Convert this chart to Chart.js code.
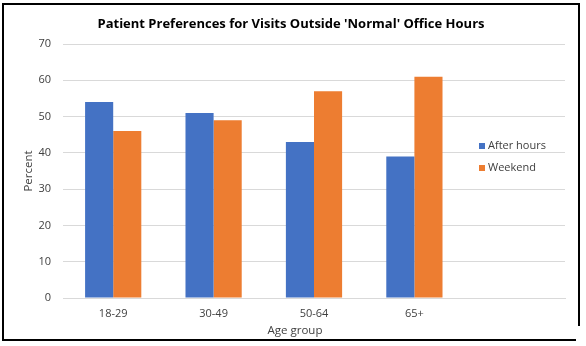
<!DOCTYPE html>
<html>
<head>
<meta charset="utf-8">
<script src="https://cdn.jsdelivr.net/npm/chart.js@4.4.0/dist/chart.umd.min.js"></script>
<style>
  html, body { margin: 0; padding: 0; background: #fff; }
  #wrap { position: relative; width: 586px; height: 346px; overflow: hidden; }
  #wrap canvas { position: absolute; left: 0; top: 0; }
  .ln { position: absolute; background: #000; }
</style>
</head>
<body>
<div id="wrap">
  <canvas id="chart" width="586" height="346"></canvas>
  <div class="ln" style="left:2px;top:3px;width:2px;height:338px"></div>
  <div class="ln" style="left:2px;top:3px;width:578px;height:2px"></div>
  <div class="ln" style="left:578px;top:3px;width:2px;height:323px"></div>
  <div class="ln" style="left:2px;top:339px;width:574px;height:2px"></div>
</div>
<script>
const titleText = "Patient Preferences for Visits Outside 'Normal' Office Hours";
const ageGroups = ["18-29", "30-49", "50-64", "65+", ""];
const afterHours = [54, 51, 43, 39, null];
const weekend = [46, 49, 57, 61, null];
const yTicks = { min: 0, max: 70, step: 10 };

const textColor = "#404040";
const fontFamily = "'Open Sans', 'Liberation Sans', sans-serif";

// title, axis titles and the legend sitting inside the plot on the right
const extras = {
  id: "extras",
  afterDraw(chart) {
    const ctx = chart.ctx;
    const area = chart.chartArea;
    ctx.save();
    ctx.fillStyle = "#000";
    ctx.font = "bold 13px " + fontFamily;
    ctx.textAlign = "center";
    ctx.textBaseline = "middle";
    ctx.fillText(titleText, 291, 24);

    ctx.fillStyle = textColor;
    ctx.font = "11.5px " + fontFamily;
    ctx.fillText("Age group", 295, 331);

    ctx.save();
    ctx.translate(29, (area.top + area.bottom) / 2);
    ctx.rotate(-Math.PI / 2);
    ctx.fillText("Percent", 0, 0);
    ctx.restore();

    ctx.textAlign = "left";
    ctx.font = "11px " + fontFamily;
    chart.data.datasets.forEach((ds, i) => {
      const y = 146 + i * 22;
      ctx.fillStyle = ds.backgroundColor;
      ctx.fillRect(479, y - 3, 6, 6);
      ctx.fillStyle = textColor;
      ctx.fillText(ds.label, 488, y);
    });
    ctx.restore();
  }
};

new Chart(document.getElementById("chart"), {
  type: "bar",
  data: {
    labels: ageGroups,
    datasets: [
      { label: "After hours", data: afterHours, backgroundColor: "#4472C4" },
      { label: "Weekend", data: weekend, backgroundColor: "#ED7D31" }
    ]
  },
  options: {
    responsive: false,
    animation: false,
    devicePixelRatio: 1,
    layout: { padding: { left: 0, right: 21, top: 44, bottom: 0 } },
    datasets: { bar: { categoryPercentage: 0.56, barPercentage: 1.0 } },
    plugins: {
      legend: { display: false },
      title: { display: false },
      tooltip: { enabled: false }
    },
    scales: {
      x: {
        grid: { display: false, drawTicks: false },
        border: { display: true, color: "#D9D9D9" },
        ticks: { color: textColor, font: { family: fontFamily, size: 11 }, padding: 9 },
        afterFit(s) { s.height = 48; }
      },
      y: {
        min: yTicks.min,
        max: yTicks.max,
        grid: { color: "#D9D9D9", drawTicks: false },
        border: { display: false },
        ticks: { stepSize: yTicks.step, color: textColor, font: { family: fontFamily, size: 11 }, padding: 12 },
        afterFit(s) { s.width = 63; }
      }
    }
  },
  plugins: [extras]
});
</script>
</body>
</html>
